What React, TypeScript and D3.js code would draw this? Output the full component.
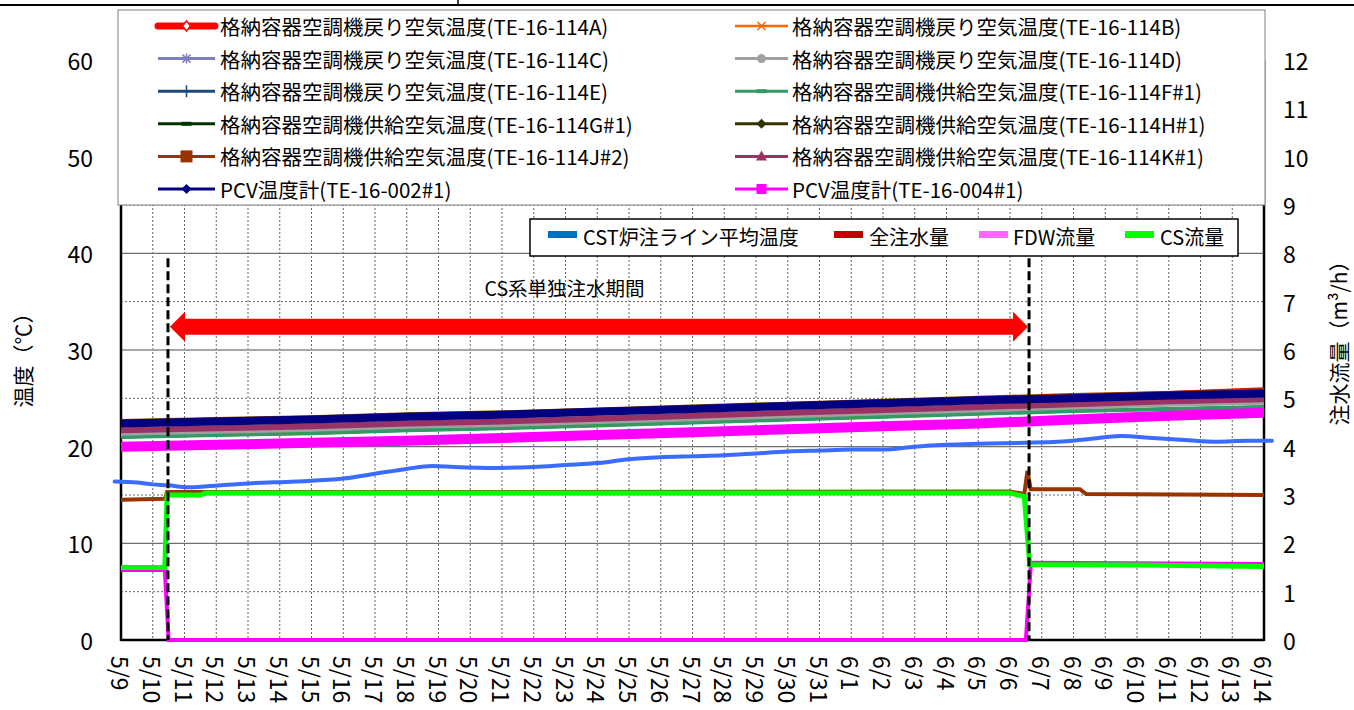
import React, { useRef, useEffect } from "react";
import * as d3 from "d3";

// x axis: one tick per day, 5/9 .. 6/14
const dayLabels = [
    "5/9", "5/10", "5/11", "5/12", "5/13", "5/14", "5/15", "5/16", "5/17", "5/18",
    "5/19", "5/20", "5/21", "5/22", "5/23", "5/24", "5/25", "5/26", "5/27", "5/28",
    "5/29", "5/30", "5/31", "6/1", "6/2", "6/3", "6/4", "6/5", "6/6", "6/7",
    "6/8", "6/9", "6/10", "6/11", "6/12", "6/13", "6/14",
];

// temperatures (deg C), read every 3 days
const tempDays = [0, 3, 6, 9, 12, 15, 18, 21, 24, 27, 30, 33, 36];
const te114A = [22.5, 22.7, 22.9, 23.2, 23.4, 23.7, 24.0, 24.3, 24.6, 24.9, 25.2, 25.5, 25.9];
const te114B = [22.3, 22.5, 22.7, 23.0, 23.2, 23.5, 23.8, 24.1, 24.4, 24.7, 25.0, 25.2, 25.4];
const te114C = [21.6, 21.8, 22.0, 22.3, 22.5, 22.8, 23.1, 23.4, 23.7, 24.0, 24.3, 24.6, 24.8];
const te114D = [21.4, 21.6, 21.8, 22.1, 22.3, 22.6, 22.9, 23.2, 23.5, 23.8, 24.1, 24.4, 24.6];
const te114E = [22.4, 22.6, 22.8, 23.1, 23.3, 23.6, 23.9, 24.2, 24.5, 24.8, 25.0, 25.3, 25.5];
const te114F = [21.0, 21.2, 21.4, 21.7, 21.9, 22.2, 22.5, 22.8, 23.1, 23.4, 23.7, 23.9, 24.1];
const te114G = [21.0, 21.2, 21.4, 21.7, 21.9, 22.2, 22.5, 22.8, 23.1, 23.4, 23.7, 23.9, 24.1];
const te114H = [21.7, 21.9, 22.1, 22.4, 22.6, 22.9, 23.2, 23.5, 23.8, 24.1, 24.4, 24.7, 24.9];
const te114J = [22.6, 22.8, 23.0, 23.3, 23.5, 23.8, 24.1, 24.4, 24.7, 25.0, 25.3, 25.5, 25.8];
const te114K = [21.7, 21.9, 22.1, 22.4, 22.6, 22.9, 23.2, 23.5, 23.8, 24.1, 24.4, 24.7, 24.9];
const te002 = [22.4, 22.6, 22.8, 23.1, 23.3, 23.6, 23.9, 24.2, 24.5, 24.8, 25.0, 25.3, 25.5];
const te004 = [20.0, 20.2, 20.4, 20.6, 20.9, 21.2, 21.5, 21.8, 22.1, 22.4, 22.8, 23.2, 23.5];

// CST line average temperature (deg C)
const cstDays = [-0.2, 0.5, 1.0, 1.5, 2.1, 2.7, 4.0, 5.5, 7.0, 8.0, 9.0, 9.8, 10.5, 11.8, 13, 14, 15, 16, 17, 18, 19, 20, 21, 22, 23, 24, 25, 26, 27, 28.5, 29.5, 30.5, 31.5, 32.5, 33.5, 34.5, 35.5, 36.25];
const cstTemp = [16.4, 16.3, 16.1, 16.0, 15.8, 15.9, 16.2, 16.4, 16.7, 17.2, 17.7, 18.0, 17.9, 17.8, 17.9, 18.1, 18.3, 18.7, 18.9, 19.0, 19.1, 19.3, 19.5, 19.6, 19.7, 19.7, 20.0, 20.2, 20.3, 20.4, 20.5, 20.8, 21.1, 20.9, 20.7, 20.5, 20.6, 20.6];

// flows (m3/h)
const csDays = [0, 1.38, 1.45, 2.5, 2.65, 28.0, 28.45, 28.62, 32, 36];
const csFlow = [1.5, 1.5, 3.0, 3.0, 3.04, 3.04, 2.97, 1.56, 1.55, 1.52];
const fdwDays = [0, 1.38, 1.5, 28.5, 28.66, 36];
const fdwFlow = [1.45, 1.45, 0, 0, 1.6, 1.57];
const totalDays = [0, 1.38, 1.45, 28.0, 28.45, 28.55, 28.65, 30.2, 30.4, 36];
const totalFlow = [2.9, 2.92, 3.06, 3.07, 3.02, 3.5, 3.12, 3.12, 3.02, 3.0];

// start / end of the CS-only injection period (day index)
const eventDays = [1.48, 28.6];

const JP = "'Noto Sans CJK JP', 'Noto Sans', sans-serif";

const App: React.FC = () => {
    const ref = useRef<SVGSVGElement | null>(null);

    useEffect(() => {
        document.body.style.margin = "0";
        const svg = d3.select(ref.current);
        svg.selectAll("*").remove();

        const left = 121, right = 1264, top = 60, bottom = 640;
        const x = d3.scaleLinear().domain([0, 36]).range([left, right]);
        const yL = d3.scaleLinear().domain([0, 60]).range([bottom, top]);
        const yR = d3.scaleLinear().domain([0, 12]).range([bottom, top]);

        svg.append("rect").attr("width", 1354).attr("height", 710).attr("fill", "#fff");

        // remains of the frame above
        svg.append("line").attr("x1", 0).attr("x2", 1354).attr("y1", 5).attr("y2", 5)
            .attr("stroke", "#000").attr("stroke-width", 2);
        svg.append("line").attr("x1", 458).attr("x2", 458).attr("y1", 0).attr("y2", 5)
            .attr("stroke", "#000").attr("stroke-width", 1.5);

        // grid
        const grid = svg.append("g");
        d3.range(1, 36).forEach((d) => {
            grid.append("line")
                .attr("x1", x(d)).attr("x2", x(d)).attr("y1", top).attr("y2", bottom)
                .attr("stroke", "#666").attr("stroke-width", 1).attr("stroke-dasharray", "2,2");
        });
        d3.range(5, 60, 10).forEach((v) => {
            grid.append("line")
                .attr("x1", left).attr("x2", right).attr("y1", yL(v)).attr("y2", yL(v))
                .attr("stroke", "#666").attr("stroke-width", 1).attr("stroke-dasharray", "2,2");
        });
        d3.range(10, 60, 10).forEach((v) => {
            grid.append("line")
                .attr("x1", left).attr("x2", right).attr("y1", yL(v)).attr("y2", yL(v))
                .attr("stroke", v === 30 ? "#a6a6a6" : "#707070").attr("stroke-width", v === 30 ? 2 : 1.2);
        });

        // axes frame
        svg.append("line").attr("x1", left).attr("x2", left).attr("y1", top).attr("y2", bottom + 1)
            .attr("stroke", "#000").attr("stroke-width", 2.5);
        svg.append("line").attr("x1", right).attr("x2", right).attr("y1", top).attr("y2", bottom + 1)
            .attr("stroke", "#000").attr("stroke-width", 2.5);
        svg.append("line").attr("x1", left).attr("x2", right).attr("y1", bottom).attr("y2", bottom)
            .attr("stroke", "#000").attr("stroke-width", 2.5);

        // tick labels
        d3.range(0, 61, 10).forEach((v) => {
            svg.append("text").attr("x", 93).attr("y", yL(v)).attr("text-anchor", "end")
                .attr("dominant-baseline", "central").style("font-family", JP).style("font-size", "23px")
                .attr("fill", "#000").text(v);
        });
        d3.range(0, 13).forEach((v) => {
            svg.append("text").attr("x", 1283).attr("y", yR(v)).attr("text-anchor", "start")
                .attr("dominant-baseline", "central").style("font-family", JP).style("font-size", "23px")
                .attr("fill", "#000").text(v);
        });
        dayLabels.forEach((lab, i) => {
            svg.append("text")
                .attr("transform", `translate(${x(i)},656) rotate(90)`)
                .attr("text-anchor", "start").attr("dominant-baseline", "central")
                .style("font-family", JP).style("font-size", "23px").attr("fill", "#000").text(lab);
        });

        // axis titles
        svg.append("text").attr("transform", "translate(22,355) rotate(-90)")
            .attr("text-anchor", "middle").attr("dominant-baseline", "central")
            .style("font-family", JP).style("font-size", "21px").text("温度（℃）");
        svg.append("text").attr("transform", "translate(1338,338) rotate(-90)")
            .attr("text-anchor", "middle").attr("dominant-baseline", "central")
            .style("font-family", JP).style("font-size", "21px").text("注水流量（m³/h）");

        // temperature series (legend order); z = drawing order
        const tempSeries = [
            { name: "格納容器空調機戻り空気温度(TE-16-114A)", v: te114A, color: "#ff0000", w: 5, lw: 7, marker: "diamondOpen", z: 5 },
            { name: "格納容器空調機戻り空気温度(TE-16-114B)", v: te114B, color: "#ff6600", w: 4, lw: 2.5, marker: "x", z: 4 },
            { name: "格納容器空調機戻り空気温度(TE-16-114C)", v: te114C, color: "#7f7fbf", w: 4, lw: 3, marker: "star", z: 3 },
            { name: "格納容器空調機戻り空気温度(TE-16-114D)", v: te114D, color: "#a0a0a0", w: 5, lw: 3, marker: "circle", z: 8 },
            { name: "格納容器空調機戻り空気温度(TE-16-114E)", v: te114E, color: "#1f497d", w: 4, lw: 3, marker: "plus", z: 2 },
            { name: "格納容器空調機供給空気温度(TE-16-114F#1)", v: te114F, color: "#339966", w: 4, lw: 3, marker: "dash", z: 7 },
            { name: "格納容器空調機供給空気温度(TE-16-114G#1)", v: te114G, color: "#003300", w: 3, lw: 3, marker: "dash", z: 0 },
            { name: "格納容器空調機供給空気温度(TE-16-114H#1)", v: te114H, color: "#333300", w: 3, lw: 3, marker: "diamond", z: 1 },
            { name: "格納容器空調機供給空気温度(TE-16-114J#2)", v: te114J, color: "#993300", w: 5, lw: 3, marker: "square", z: 6 },
            { name: "格納容器空調機供給空気温度(TE-16-114K#1)", v: te114K, color: "#993366", w: 6, lw: 3, marker: "triangle", z: 9 },
            { name: "PCV温度計(TE-16-002#1)", v: te002, color: "#000080", w: 8, lw: 3, marker: "diamond", z: 10 },
            { name: "PCV温度計(TE-16-004#1)", v: te004, color: "#ff00ff", w: 10, lw: 3, marker: "squareSmall", z: 11 },
        ];

        const lineL = d3.line<[number, number]>().x((d) => x(d[0])).y((d) => yL(d[1]));
        const lineR = d3.line<[number, number]>().x((d) => x(d[0])).y((d) => yR(d[1]));
        const series = svg.append("g");
        [...tempSeries].sort((a, b) => a.z - b.z).forEach((s) => {
            series.append("path")
                .datum(tempDays.map((d, i) => [d, s.v[i]] as [number, number]))
                .attr("fill", "none").attr("stroke", s.color).attr("stroke-width", s.w)
                .attr("d", lineL);
        });

        const cstLine = d3.line<[number, number]>().x((d) => x(d[0])).y((d) => yL(d[1])).curve(d3.curveMonotoneX);
        series.append("path")
            .datum(cstDays.map((d, i) => [d, cstTemp[i]] as [number, number]))
            .attr("fill", "none").attr("stroke", "#3a6cff").attr("stroke-width", 4)
            .attr("stroke-linejoin", "round").attr("stroke-linecap", "round")
            .attr("d", cstLine);

        const flows = [
            { days: totalDays, v: totalFlow, color: "#993300", w: 4 },
            { days: fdwDays, v: fdwFlow, color: "#ff00ff", w: 4 },
            { days: csDays, v: csFlow, color: "#00ff00", w: 5 },
        ];
        flows.forEach((f) => {
            series.append("path")
                .datum(f.days.map((d, i) => [d, f.v[i]] as [number, number]))
                .attr("fill", "none").attr("stroke", f.color).attr("stroke-width", f.w)
                .attr("d", lineR);
        });

        // CS-only period markers
        eventDays.forEach((d) => {
            svg.append("line").attr("x1", x(d)).attr("x2", x(d)).attr("y1", yL(39.5)).attr("y2", bottom)
                .attr("stroke", "#000").attr("stroke-width", 3).attr("stroke-dasharray", "9,4");
        });
        const ax0 = x(eventDays[0]) + 2, ax1 = x(eventDays[1]) - 1, ay = yL(32.4);
        const hl = 15, hh = 15, sh = 8;
        svg.append("polygon")
            .attr("points", [
                [ax0, ay], [ax0 + hl, ay - hh], [ax0 + hl, ay - sh], [ax1 - hl, ay - sh], [ax1 - hl, ay - hh],
                [ax1, ay], [ax1 - hl, ay + hh], [ax1 - hl, ay + sh], [ax0 + hl, ay + sh], [ax0 + hl, ay + hh],
            ].map((p) => p.join(",")).join(" "))
            .attr("fill", "#ff0000");
        svg.append("text").attr("x", x(13.97)).attr("y", yL(36.5)).attr("text-anchor", "middle")
            .attr("dominant-baseline", "central").style("font-family", JP).style("font-size", "19.5px")
            .text("CS系単独注水期間");

        // main legend
        const lg = svg.append("g");
        lg.append("rect").attr("x", 118).attr("y", 10).attr("width", 1147).attr("height", 195)
            .attr("fill", "#fff").attr("stroke", "#808080").attr("stroke-width", 1);
        tempSeries.forEach((s, i) => {
            const col = i % 2, row = Math.floor(i / 2);
            const cy = 26 + row * 32.6;
            const lx0 = col === 0 ? 158 : 735, lx1 = col === 0 ? 215 : 788;
            const mx = (lx0 + lx1) / 2;
            lg.append("line").attr("x1", lx0).attr("x2", lx1).attr("y1", cy).attr("y2", cy)
                .attr("stroke", s.color).attr("stroke-width", s.lw)
                .attr("stroke-linecap", s.lw > 5 ? "round" : "butt");
            const m = lg.append("g").attr("transform", `translate(${mx},${cy})`);
            switch (s.marker) {
                case "diamondOpen":
                    m.append("path").attr("d", "M0,-5L4,0L0,5L-4,0Z").attr("fill", "#fff")
                        .attr("stroke", s.color).attr("stroke-width", 1.5);
                    break;
                case "x":
                    m.append("path").attr("d", "M-4,-4L4,4M-4,4L4,-4").attr("stroke", s.color).attr("stroke-width", 1.5);
                    break;
                case "star":
                    m.append("path").attr("d", "M-4,-4L4,4M-4,4L4,-4M0,-5L0,5").attr("stroke", s.color).attr("stroke-width", 1.5);
                    break;
                case "circle":
                    m.append("circle").attr("r", 4.5).attr("fill", s.color);
                    break;
                case "plus":
                    m.append("path").attr("d", "M0,-6L0,6").attr("stroke", s.color).attr("stroke-width", 1.5);
                    break;
                case "dash":
                    m.append("path").attr("d", "M-5,0L5,0").attr("stroke", s.color).attr("stroke-width", 4);
                    break;
                case "diamond":
                    m.append("path").attr("d", "M0,-5L5,0L0,5L-5,0Z").attr("fill", s.color);
                    break;
                case "square":
                    m.append("rect").attr("x", -6).attr("y", -6).attr("width", 12).attr("height", 12).attr("fill", s.color);
                    break;
                case "squareSmall":
                    m.append("rect").attr("x", -5).attr("y", -5).attr("width", 10).attr("height", 10).attr("fill", s.color);
                    break;
                case "triangle":
                    m.append("path").attr("d", "M0,-6L5.5,4L-5.5,4Z").attr("fill", s.color);
                    break;
            }
            lg.append("text").attr("x", col === 0 ? 220 : 792).attr("y", cy)
                .attr("dominant-baseline", "central").style("font-family", JP).style("font-size", "20.5px")
                .attr("fill", "#000").text(s.name);
        });

        // flow / CST legend
        const lg2 = svg.append("g");
        lg2.append("rect").attr("x", 530).attr("y", 219).attr("width", 708).attr("height", 37)
            .attr("fill", "#fff").attr("stroke", "#000").attr("stroke-width", 1.5);
        const items = [
            { name: "CST炉注ライン平均温度", color: "#0070c0", sx: 548, tx: 583 },
            { name: "全注水量", color: "#c00000", sx: 834, tx: 869 },
            { name: "FDW流量", color: "#ff66ff", sx: 979, tx: 1013 },
            { name: "CS流量", color: "#00ff00", sx: 1125, tx: 1160 },
        ];
        items.forEach((it) => {
            lg2.append("rect").attr("x", it.sx).attr("y", 231).attr("width", 29).attr("height", 7).attr("fill", it.color);
            lg2.append("text").attr("x", it.tx).attr("y", 236).attr("dominant-baseline", "central")
                .style("font-family", JP).style("font-size", "20px").attr("fill", "#000").text(it.name);
        });
    }, []);

    return <svg ref={ref} width={1354} height={710} style={{ display: "block" }}></svg>;
};

export default App;
